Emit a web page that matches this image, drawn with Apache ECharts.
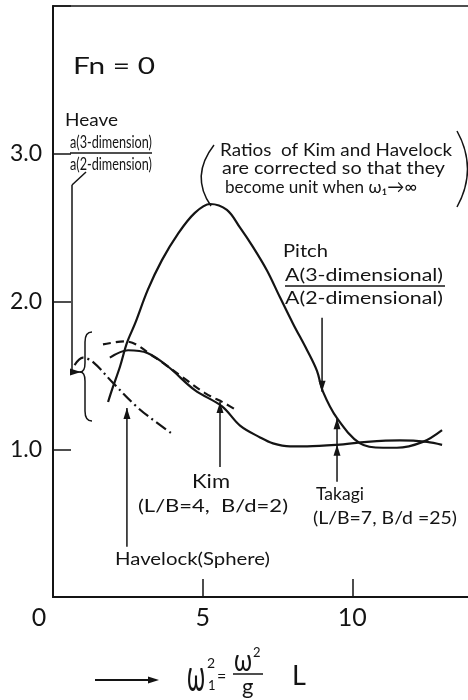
<!DOCTYPE html>
<html>
<head>
<meta charset="utf-8">
<script src="https://cdn.jsdelivr.net/npm/echarts@6/dist/echarts.min.js"></script>
<style>
  html, body { margin: 0; padding: 0; background: #ffffff; }
  #chart { width: 468px; height: 700px; }
</style>
</head>
<body>
<div id="chart"></div>
<script>
// Tick values shown on each axis
const xTickValues = [0, 5, 10];
const yTickValues = [1, 2, 3];

// Pitch ratio A(3-dim)/A(2-dim), Takagi (L/B=7, B/d=2.5)
const pitchTakagi = [
  [1.84, 1.32], [2.00, 1.42], [2.24, 1.56], [2.47, 1.72], [2.74, 1.85],
  [3.17, 2.08], [3.64, 2.28], [4.18, 2.46], [4.74, 2.60], [5.25, 2.66],
  [5.81, 2.62], [6.25, 2.50], [6.68, 2.37], [7.15, 2.21], [7.58, 2.03],
  [8.02, 1.85], [8.49, 1.67], [8.82, 1.53], [9.02, 1.39], [9.49, 1.21],
  [10.26, 1.04], [11.03, 1.01], [11.49, 1.01], [12.36, 1.05], [13.0, 1.13]
];

// Heave ratio a(3-dim)/a(2-dim), Takagi
const heaveTakagi = [
  [1.90, 1.62], [2.51, 1.67], [3.17, 1.65], [3.84, 1.56], [4.74, 1.40],
  [5.65, 1.29], [6.25, 1.16], [6.92, 1.08], [7.35, 1.04], [7.92, 1.02],
  [8.49, 1.02], [9.49, 1.03], [10.49, 1.05], [11.59, 1.06], [12.50, 1.05],
  [13.0, 1.03]
];

// Heave ratio, Kim (L/B=4, B/d=2)
const heaveKim = [
  [1.67, 1.71], [2.41, 1.73], [3.41, 1.62], [4.31, 1.49], [5.08, 1.38],
  [5.75, 1.31], [6.08, 1.27]
];

// Heave ratio, Havelock (sphere)
const heaveHavelock = [
  [0.72, 1.57], [1.0, 1.62], [1.34, 1.59], [2.00, 1.45], [2.84, 1.28],
  [3.47, 1.18], [4.01, 1.10]
];

const FONT = 'Lato, "Noto Sans", sans-serif';
const INK = '#141414';

const chart = echarts.init(document.getElementById('chart'), null, { renderer: 'canvas' });

function curve(name, data, type) {
  return {
    name: name,
    type: 'line',
    data: data,
    smooth: 0.35,
    showSymbol: false,
    silent: true,
    lineStyle: { color: INK, width: 2.2, type: type }
  };
}

chart.setOption({
  animation: false,
  backgroundColor: '#ffffff',
  grid: {
    left: 53, top: 6, width: 419, bottom: 103,
    outerBoundsMode: 'none', containLabel: false,
    show: true, borderColor: INK, borderWidth: 1.5, backgroundColor: 'transparent'
  },
  xAxis: {
    type: 'value', min: 0, max: 14, interval: 5,
    axisLine: { show: true, lineStyle: { color: INK, width: 2 } },
    axisTick: { show: true, inside: true, length: 18, lineStyle: { color: INK, width: 1.5 } },
    splitLine: { show: false },
    axisLabel: {
      margin: 8,
      color: INK, fontFamily: FONT, fontSize: 25,
      formatter: function (v) {
        if (xTickValues.indexOf(v) < 0) return '';
        return v === 0 ? '{z|0}' : String(v);
      },
      rich: { z: { fontFamily: FONT, fontSize: 25, color: INK, padding: [0, 28, 0, 0] } }
    }
  },
  yAxis: {
    type: 'value', min: 0, max: 4, interval: 1,
    axisLine: { show: true, lineStyle: { color: INK, width: 2 } },
    axisTick: { show: true, inside: true, length: 18, lineStyle: { color: INK, width: 1.5 } },
    splitLine: { show: false },
    axisLabel: {
      margin: 11,
      color: INK, fontFamily: FONT, fontSize: 23,
      formatter: function (v) {
        return yTickValues.indexOf(v) < 0 ? '' : v.toFixed(1);
      }
    }
  },
  series: [
    curve('Pitch', pitchTakagi, 'solid'),
    curve('Heave Takagi', heaveTakagi, 'solid'),
    curve('Heave Kim', heaveKim, [8, 5]),
    curve('Heave Havelock', heaveHavelock, [12, 4, 2, 4])
  ]
});

// ---- annotations -------------------------------------------------------
function P(x, y) { return chart.convertToPixel({ xAxisIndex: 0, yAxisIndex: 0 }, [x, y]); }

const measureCtx = document.createElement('canvas').getContext('2d');
function measure(str, size) {
  measureCtx.font = size + 'px ' + FONT;
  return measureCtx.measureText(str).width;
}

// left-anchored text; when a box width is given the glyphs are stretched to fill it
function text(str, x, y, size, width, sy) {
  const sx = width ? width / measure(str, size) : 1;
  return {
    type: 'text', x: x, y: y, scaleX: sx, scaleY: sy || 1, silent: true,
    style: {
      text: str, font: size + 'px ' + FONT, fill: INK,
      align: 'left', verticalAlign: 'middle',
      textAlign: 'left', textVerticalAlign: 'middle'
    }
  };
}
function line(x1, y1, x2, y2, w) {
  return { type: 'line', silent: true, shape: { x1: x1, y1: y1, x2: x2, y2: y2 },
           style: { stroke: INK, lineWidth: w || 1.5 } };
}
function quad(x1, y1, cx, cy, x2, y2, w) {
  return { type: 'bezierCurve', silent: true,
           shape: { x1: x1, y1: y1, cpx1: cx, cpy1: cy, x2: x2, y2: y2 },
           style: { stroke: INK, fill: 'none', lineWidth: w || 1.5 } };
}
// filled arrow head with its tip at (x, y); dir: 'up' | 'down' | 'right'
function head(x, y, dir) {
  let pts;
  if (dir === 'up') pts = [[x, y], [x - 3.5, y + 11], [x + 3.5, y + 11]];
  else if (dir === 'down') pts = [[x, y], [x - 3.5, y - 11], [x + 3.5, y - 11]];
  else pts = [[x, y], [x - 11, y - 3.5], [x - 11, y + 3.5]];
  return { type: 'polygon', silent: true, shape: { points: pts }, style: { fill: INK } };
}
// vertical pointer from a label to a curve
function pointer(xv, yFrom, yTo) {
  const a = P(xv, yFrom), b = P(xv, yTo);
  const dir = b[1] < a[1] ? 'up' : 'down';
  return [line(a[0], a[1], b[0], b[1], 1.5), head(b[0], b[1], dir)];
}

const g = [];

g.push(text('Fn = 0', 73, 66, 24, 82));

// Heave label with its fraction and leader into the brace
g.push(text('Heave', 65, 121, 17, 53));
g.push(text('a(3-dimension)', 70, 142, 18, 82));
g.push(line(70, 153, 152, 153, 1.3));
g.push(text('a(2-dimension)', 70, 164, 18, 82));
g.push(line(86, 172, 72, 185, 1.5));
g.push(line(72, 185, 72, 372, 1.5));
g.push(line(72, 372, 80, 372, 1.5));
g.push(head(81, 372, 'right'));
// curly brace grouping the heave curves
g.push(quad(92, 332, 85, 332, 85, 342));
g.push(line(85, 342, 85, 363));
g.push(quad(85, 363, 85, 372, 80, 372));
g.push(quad(80, 372, 85, 372, 85, 381));
g.push(line(85, 381, 85, 411));
g.push(quad(85, 411, 85, 421, 92, 421));

// Note in parentheses
g.push(quad(214, 145, 190, 176, 211, 206));
g.push(quad(457, 131, 478, 169, 457, 207));
g.push(text('Ratios  of Kim and Havelock', 220, 151, 17, 232));
g.push(text('are corrected so that they', 222, 169, 17, 223));
g.push(text('become unit when \u03c9\u2081\u2192\u221e', 225, 187, 18, 192));

// Pitch label
g.push(text('Pitch', 283, 251, 18, 45));
g.push(text('A(3-dimensional)', 285, 275, 18, 158));
g.push(line(285, 286, 445, 286, 1.3));
g.push(text('A(2-dimensional)', 285, 298, 18, 158));
g.push.apply(g, pointer(8.99, 1.89, 1.39));

// Kim label
g.push(text('Kim', 192, 482, 19, 38));
g.push(text('(L/B=4,  B/d=2)', 138, 506, 18, 150));
g.push.apply(g, pointer(5.58, 0.88, 1.32));

// Takagi label (points at both Takagi curves)
g.push(text('Takagi', 316, 494, 18, 48));
g.push(text('(L/B=7, B/d =25)', 313, 518, 18, 144));
g.push.apply(g, pointer(9.49, 0.78, 1.21));
(function () { const p = P(9.49, 1.03); g.push(head(p[0], p[1], 'up')); })();

// Havelock label
g.push(text('Havelock(Sphere)', 115, 560, 17, 155));
g.push.apply(g, pointer(2.47, 0.34, 1.28));

// Abscissa definition: ω1² = (ω²/g) L
g.push(line(95, 680, 150, 680, 2));
g.push(head(159, 680, 'right'));
g.push(text('\u03c9', 187, 677, 30, 18, 1.45));
g.push(text('2', 207, 663, 14));
g.push(text('1', 208, 686, 13));
g.push(text('=', 217, 677, 16));
g.push(text('\u03c9', 234, 661, 24, 18, 1.3));
g.push(text('2', 253, 653, 13));
g.push(line(233, 674, 263, 674, 1.5));
g.push(text('g', 242, 687, 22));
g.push(text('L', 292, 676, 27));

chart.setOption({ graphic: { elements: g } });
</script>
</body>
</html>
